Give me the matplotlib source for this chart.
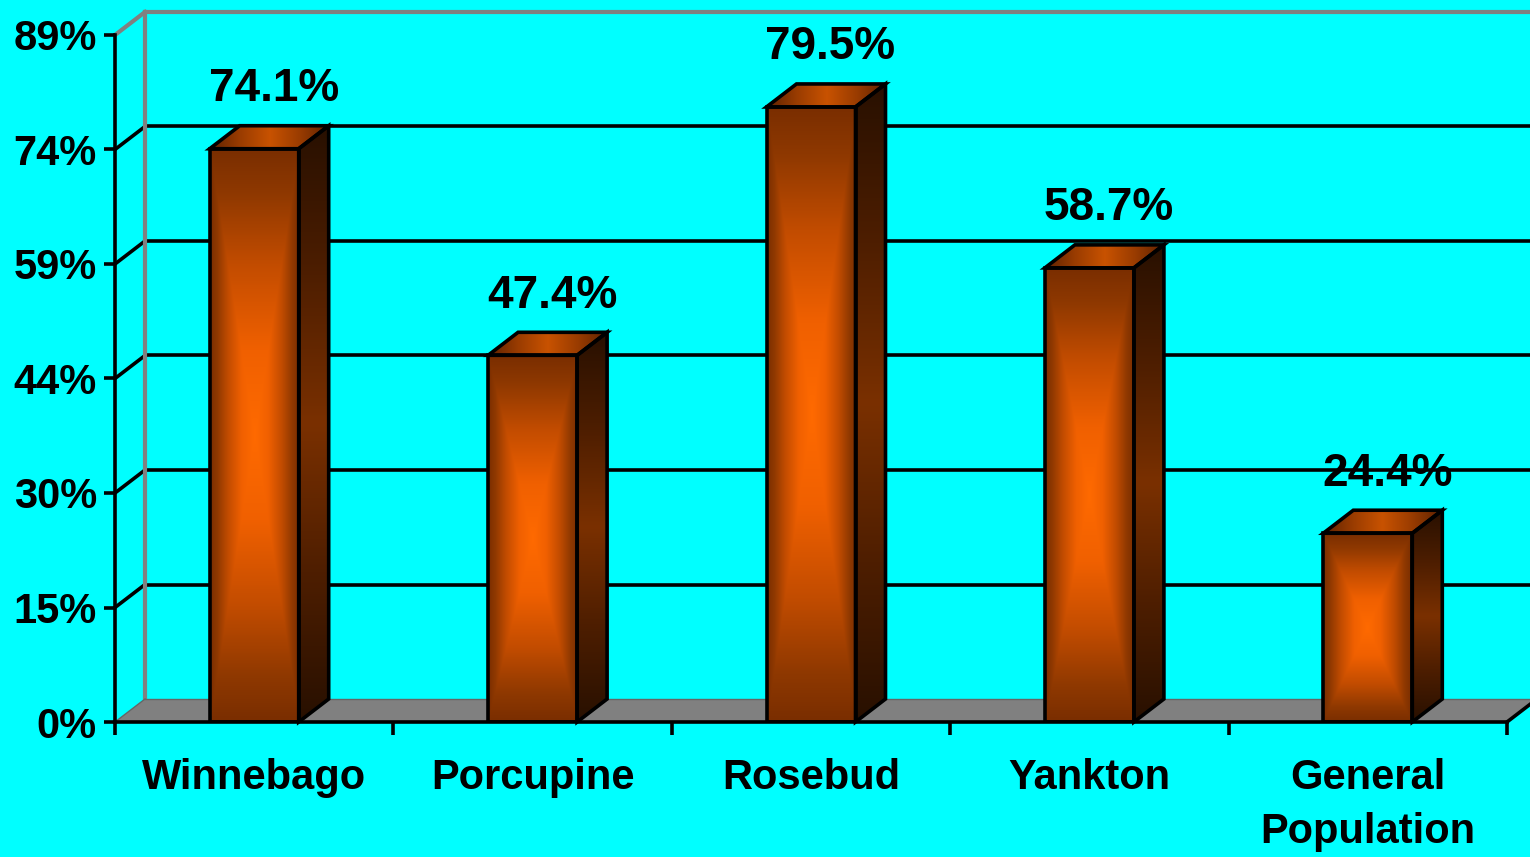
import numpy as np
import matplotlib
matplotlib.use('Agg')
import matplotlib.pyplot as plt
from matplotlib.patches import Polygon
from matplotlib.colors import LinearSegmentedColormap

plt.rcParams['font.family'] = ['Liberation Sans', 'DejaVu Sans']

# ---- data ----
categories = ['Winnebago', 'Porcupine', 'Rosebud', 'Yankton', 'General\nPopulation']
values = [74.1, 47.4, 79.5, 58.7, 24.4]
value_labels = ['74.1%', '47.4%', '79.5%', '58.7%', '24.4%']
y_ticks = [0, 14.8, 29.6, 44.4, 59.2, 74.0, 88.8]
y_tick_labels = ['0%', '15%', '30%', '44%', '59%', '74%', '89%']
y_max = 88.8

# ---- layout ----
W, H = 1530, 857
fig = plt.figure(figsize=(W / 100, H / 100), dpi=100, facecolor='#00FFFF')
left_px, right_px, bottom_px, top_px = 115, 1507, 722, 35
ax = fig.add_axes([left_px / W, 1 - bottom_px / H,
                   (right_px - left_px) / W, (bottom_px - top_px) / H])
ax.set_facecolor('none')
n = len(categories)

# 3-D depth offset, expressed in data units
DX = 30 * n / (right_px - left_px)
DY = 23 * y_max / (bottom_px - top_px)

LW = 2.6
GRAY = '#808080'

# back wall grid lines + side-wall diagonals
for t in y_ticks[1:-1]:
    ax.plot([DX, n + DX + 0.5], [t + DY, t + DY], color='black', lw=LW,
            clip_on=False, zorder=1, solid_capstyle='butt')
    ax.plot([0, DX], [t, t + DY], color='black', lw=LW, clip_on=False, zorder=1)

# back wall frame (gray)
ax.plot([DX, n + DX + 0.5], [y_max + DY, y_max + DY], color=GRAY, lw=LW + 0.4,
        clip_on=False, zorder=1.5)
ax.plot([DX, DX], [DY, y_max + DY], color=GRAY, lw=LW + 0.4, clip_on=False, zorder=1.5)
ax.plot([0, DX], [y_max, y_max + DY], color=GRAY, lw=LW + 0.4, clip_on=False, zorder=1.5)

# floor
floor = Polygon([(0, 0), (n, 0), (n + DX, DY), (DX, DY)], closed=True,
                fc=GRAY, ec='none', zorder=2, clip_on=False)
ax.add_patch(floor)
ax.plot([DX, n + DX + 0.5], [DY, DY], color='#666666', lw=1.0, clip_on=False, zorder=2.1)
ax.plot([0, DX], [0, DY], color='#666666', lw=1.0, clip_on=False, zorder=2.1)
ax.plot([n, n + DX], [0, DY], color='black', lw=LW, clip_on=False, zorder=2.2)

# colour maps for the bar faces
front_cmap = LinearSegmentedColormap.from_list(
    'front', [(0.0, '#FF6A00'), (0.3, '#F06000'), (0.6, '#C24C00'),
              (0.85, '#8E3800'), (1.0, '#7A2E00')])
top_cmap = LinearSegmentedColormap.from_list('top', ['#C85200', '#9A3C00', '#5E2200'])
side_cmap = LinearSegmentedColormap.from_list('side', ['#7A3000', '#4E1E00', '#281000'])

bar_w = 89 / ((right_px - left_px) / n)

uu = np.linspace(-1, 1, 120)
vv = np.linspace(-1, 1, 240)
U, V = np.meshgrid(uu, vv)
front_t = np.maximum(np.abs(U), np.abs(V))

for i, (val, lbl) in enumerate(zip(values, value_labels)):
    cx = i + 0.5
    x0 = cx - bar_w / 2
    x1 = cx + bar_w / 2
    z = 3 + i

    # front face
    im = ax.imshow(front_t, cmap=front_cmap, vmin=0, vmax=1,
                   extent=(x0, x1, 0, val), origin='lower', aspect='auto',
                   interpolation='bilinear', zorder=z)
    front = Polygon([(x0, 0), (x1, 0), (x1, val), (x0, val)], closed=True,
                    fc='none', ec='black', lw=LW, zorder=z + 0.5, joinstyle='miter')
    ax.add_patch(front)
    im.set_clip_path(front)

    # top face
    top_poly = Polygon([(x0, val), (x1, val), (x1 + DX, val + DY), (x0 + DX, val + DY)],
                       closed=True, fc='none', ec='black', lw=LW, zorder=z + 0.5,
                       clip_on=False, joinstyle='miter')
    ax.add_patch(top_poly)
    top_t = np.abs(np.linspace(-1, 1, 120))[None, :].repeat(4, axis=0)
    im2 = ax.imshow(top_t, cmap=top_cmap, vmin=0, vmax=1,
                    extent=(x0, x1 + DX, val, val + DY), origin='lower', aspect='auto',
                    interpolation='bilinear', zorder=z)
    im2.set_clip_path(top_poly)

    # side face
    side_poly = Polygon([(x1, 0), (x1 + DX, DY), (x1 + DX, val + DY), (x1, val)],
                        closed=True, fc='none', ec='black', lw=LW, zorder=z + 0.5,
                        clip_on=False, joinstyle='miter')
    ax.add_patch(side_poly)
    side_t = np.abs(np.linspace(-1, 1, 240))[:, None].repeat(4, axis=1)
    im3 = ax.imshow(side_t, cmap=side_cmap, vmin=0, vmax=1,
                    extent=(x1, x1 + DX, 0, val + DY), origin='lower', aspect='auto',
                    interpolation='bilinear', zorder=z)
    im3.set_clip_path(side_poly)

    # value label
    ax.annotate(lbl, xy=(cx, val), xytext=(14, 43), textcoords='offset points',
                ha='center', va='center', fontsize=33, fontweight='bold',
                color='black', zorder=20, annotation_clip=False)

# axes / spines
ax.set_xlim(0, n)
ax.set_ylim(0, y_max)
for s in ['top', 'right']:
    ax.spines[s].set_visible(False)
for s in ['left', 'bottom']:
    ax.spines[s].set_color('black')
    ax.spines[s].set_linewidth(LW)
    ax.spines[s].set_zorder(30)

ax.set_yticks(y_ticks)
ax.set_yticklabels(y_tick_labels, fontsize=30, fontweight='bold')
ax.tick_params(axis='y', length=8, width=LW, color='black', pad=5, direction='out')

ax.set_xticks(range(n + 1))
ax.set_xticklabels([''] * (n + 1))
ax.tick_params(axis='x', which='major', length=9.5, width=LW, color='black', direction='out')
ax.set_xticks([i + 0.5 for i in range(n)], minor=True)
ax.set_xticklabels(categories, minor=True, fontsize=30, fontweight='bold',
                   linespacing=1.45, va='top')
ax.tick_params(axis='x', which='minor', length=0, pad=26)

fig.savefig('out.png', dpi=100, facecolor=fig.get_facecolor())
